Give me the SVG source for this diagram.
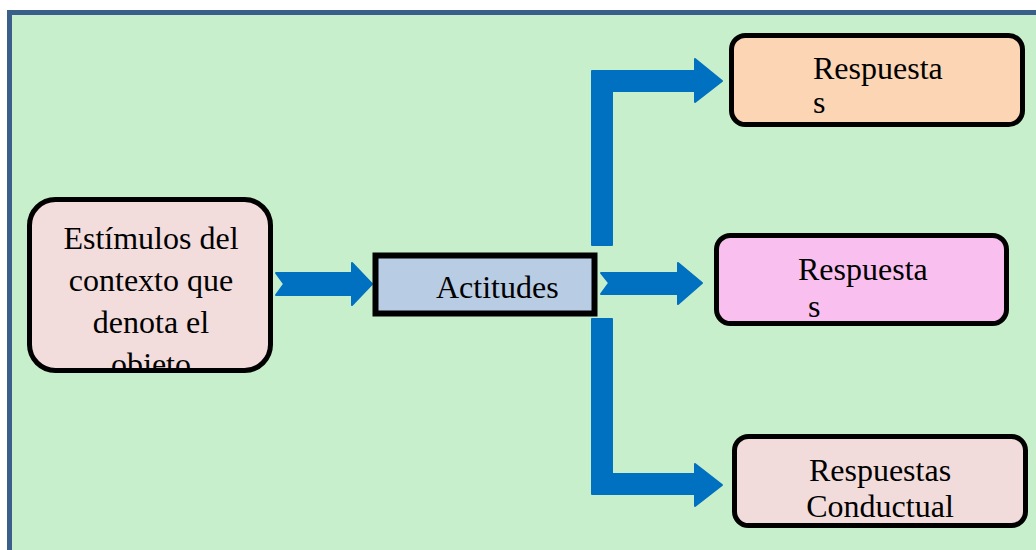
<svg xmlns="http://www.w3.org/2000/svg" width="1036" height="550" viewBox="0 0 1036 550">
<style>
.t{font-family:"Liberation Serif","Times New Roman",serif;font-size:32px;fill:#000}
.box{stroke:#000;stroke-width:5}
.arr{fill:#0070c0;stroke:#0070c0;stroke-width:2;stroke-linejoin:round}
</style>
<defs>
<clipPath id="clipL"><rect x="30" y="200" width="240" height="168" rx="24"/></clipPath>
</defs>
<rect x="0" y="0" width="1036" height="550" fill="#ffffff"/>
<rect x="9.5" y="12.5" width="1040" height="560" fill="#c8efcb" stroke="#3a5f8a" stroke-width="5"/>
<g id="connectors">
<polygon class="arr" points="276,273 352,273 352,263 372,284 352,305 352,295 276,295 284,284"/>
<polygon class="arr" points="601,273 678,273 678,263 702,283 678,304 678,294 601,294 609,283"/>
<polygon class="arr" points="592,245 592,71 695,71 695,59 722,81 695,102 695,91 612,91 612,245"/>
<polygon class="arr" points="592,319 612,319 612,474 695,474 695,464 722,485 695,506 695,494 592,494"/>
</g>
<g id="node-estimulos">
<rect class="box" x="29.5" y="199.5" width="241" height="171" rx="26" fill="#f2dcdc"/>
<g clip-path="url(#clipL)">
<text class="t" x="151" y="249" text-anchor="middle">Estímulos del</text>
<text class="t" x="151" y="291" text-anchor="middle">contexto que</text>
<text class="t" x="151" y="333" text-anchor="middle">denota el</text>
<text class="t" x="151" y="375" text-anchor="middle">objeto</text>
</g>
</g>
<g id="node-actitudes">
<rect x="375.5" y="255.5" width="219" height="58" fill="#b8cce4" stroke="#000" stroke-width="6"/>
<text class="t" x="436" y="298">Actitudes</text>
</g>
<g id="node-resp1">
<rect class="box" x="731.5" y="35.5" width="291" height="89" rx="14" fill="#fcd5b4"/>
<text class="t" x="813" y="79">Respuesta</text>
<text class="t" x="813" y="113">s</text>
</g>
<g id="node-resp2">
<rect class="box" x="716.5" y="235.5" width="290" height="88" rx="14" fill="#f9c0ef"/>
<text class="t" x="798" y="280">Respuesta</text>
<text class="t" x="808" y="317">s</text>
</g>
<g id="node-resp3">
<rect class="box" x="734.5" y="436.5" width="291" height="89" rx="14" fill="#f2dcdb"/>
<text class="t" x="880" y="481" text-anchor="middle">Respuestas</text>
<text class="t" x="880" y="517" text-anchor="middle">Conductual</text>
</g>
</svg>
